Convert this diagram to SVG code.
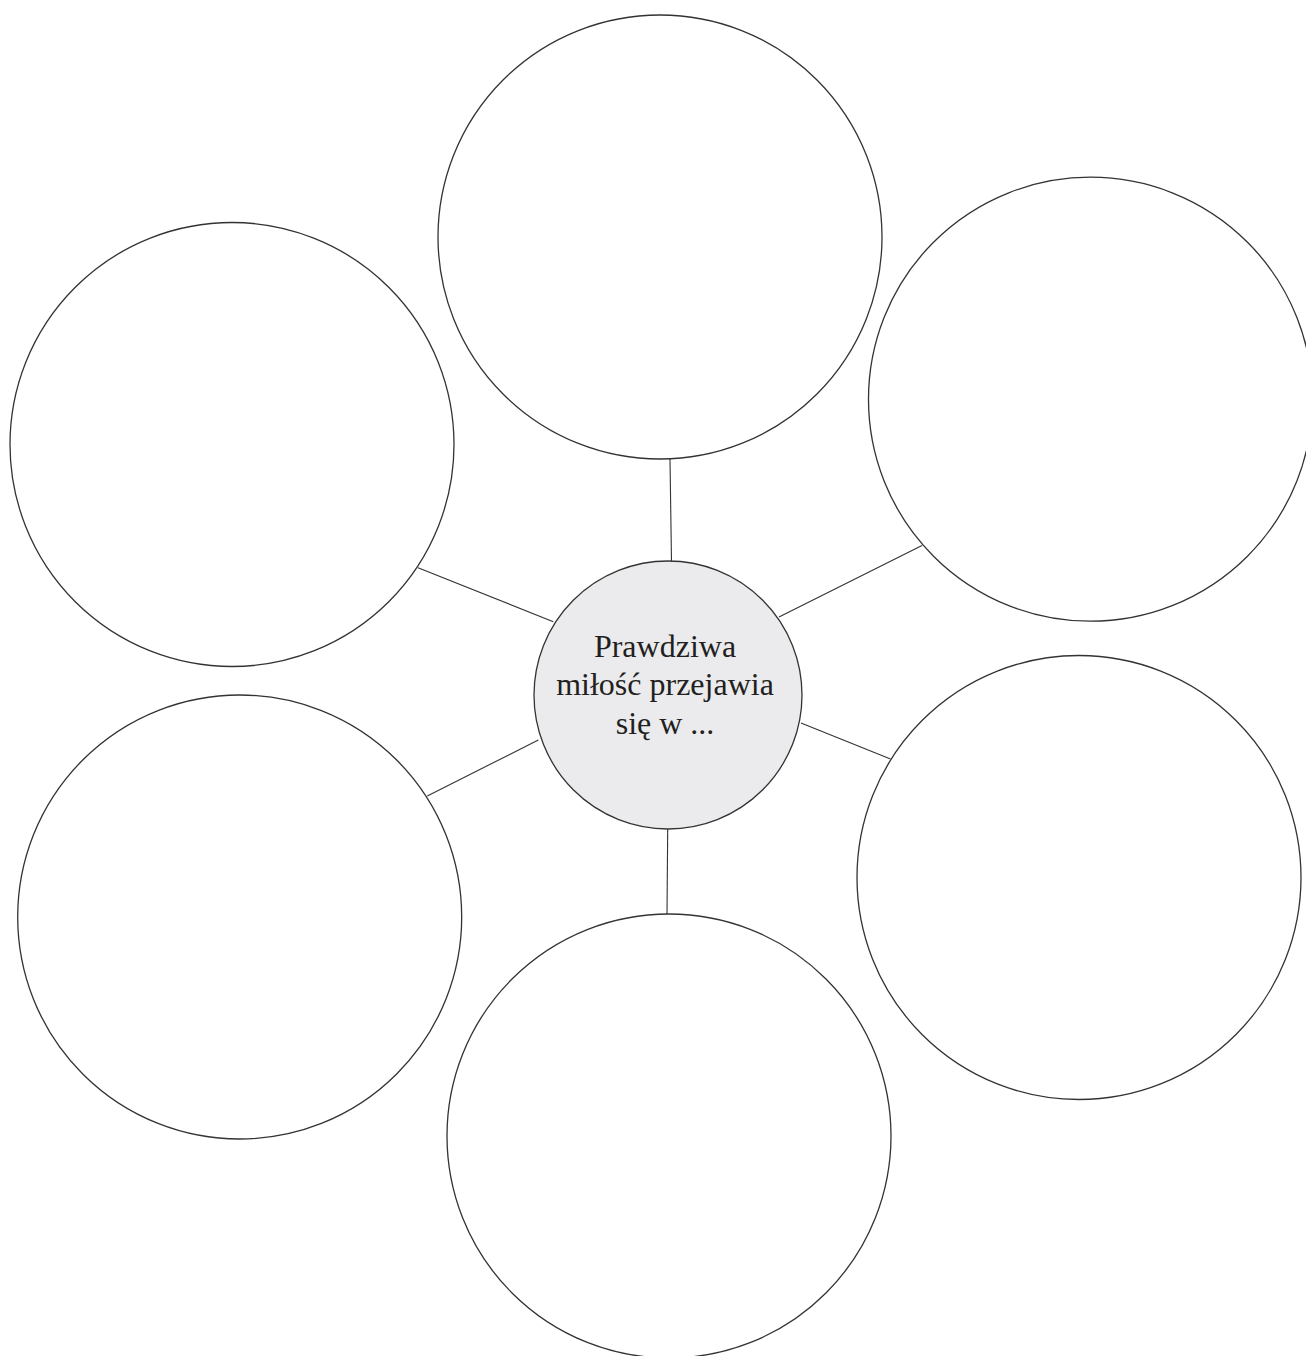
<svg xmlns="http://www.w3.org/2000/svg" width="1306" height="1356" viewBox="0 0 1306 1356">
<style>
.c{fill:#ffffff;stroke:#333333;stroke-width:1.3}
.hub{fill:#ebebed;stroke:#333333;stroke-width:1.3}
.ln{stroke:#333333;stroke-width:1.1;fill:none}
.t{font-family:"Liberation Serif","Times New Roman",serif;font-size:32px;fill:#231f20;text-anchor:middle}
</style>
<rect width="1306" height="1356" fill="#ffffff"/>
<g id="connectors">
<line class="ln" x1="670" y1="459" x2="671.5" y2="562"/>
<line class="ln" x1="922" y1="545.5" x2="779" y2="617"/>
<line class="ln" x1="890.5" y1="759" x2="801" y2="723"/>
<line class="ln" x1="667" y1="914" x2="667.7" y2="828"/>
<line class="ln" x1="427.3" y1="796" x2="538.3" y2="740"/>
<line class="ln" x1="418" y1="567.7" x2="553.3" y2="621.7"/>
</g>
<g id="node-top"><circle class="c" cx="660" cy="237" r="222"/></g>
<g id="node-top-right"><circle class="c" cx="1090.5" cy="399.2" r="222"/></g>
<g id="node-top-left"><circle class="c" cx="232" cy="444.5" r="222"/></g>
<g id="node-bottom-left"><circle class="c" cx="239.7" cy="917" r="222"/></g>
<g id="node-bottom-right"><circle class="c" cx="1079" cy="877.5" r="222"/></g>
<g id="node-bottom"><circle class="c" cx="669" cy="1136" r="222"/></g>
<g id="node-center">
<circle class="hub" cx="668" cy="695" r="134"/>
<text class="t" x="665" y="657">Prawdziwa</text>
<text class="t" x="665" y="695">miłość przejawia</text>
<text class="t" x="665" y="734">się w ...</text>
</g>
</svg>
